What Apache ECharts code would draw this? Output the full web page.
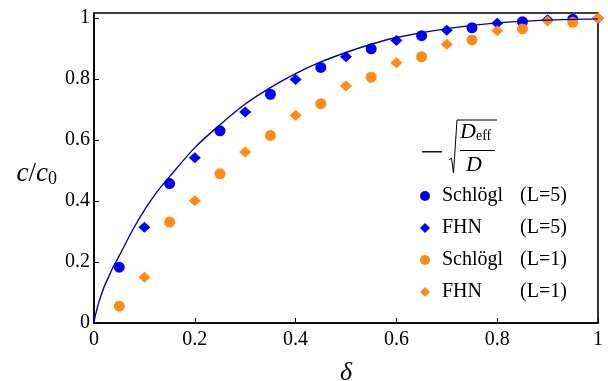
<!DOCTYPE html>
<html style="height: 100%">
<head>
<meta charset="utf-8">
<script src="https://cdn.jsdelivr.net/npm/echarts@6/dist/echarts.min.js"></script>
</head>
<body style="height: 100%; margin: 0; background: #fff">
<div id="container" style="width: 608px; height: 381px"></div>
<script type="text/javascript">
// delta values of the circle series and of the diamond series
var deltaOdd = [0.05, 0.15, 0.25, 0.35, 0.45, 0.55, 0.65, 0.75, 0.85, 0.95];
var deltaEven = [0.1, 0.2, 0.3, 0.4, 0.5, 0.6, 0.7, 0.8, 0.9, 1.0];
var schloglL5 = [0.183, 0.457, 0.630, 0.750, 0.838, 0.899, 0.942, 0.968, 0.988, 0.996];
var fhnL5 = [0.314, 0.542, 0.692, 0.798, 0.873, 0.926, 0.960, 0.983, 0.994, 0.999];
var schloglL1 = [0.055, 0.331, 0.489, 0.615, 0.719, 0.806, 0.873, 0.928, 0.964, 0.986];
var fhnL1 = [0.150, 0.401, 0.561, 0.681, 0.777, 0.853, 0.914, 0.958, 0.990, 0.999];
// sqrt(Deff/D) curve
var curveDelta = [0, 0.002, 0.005, 0.01, 0.02, 0.03, 0.04, 0.05, 0.075, 0.1, 0.125, 0.15, 0.2, 0.25, 0.3, 0.35, 0.4, 0.45, 0.5, 0.55, 0.6, 0.7, 0.8, 0.9, 1.0];
var curveVal = [0, 0.02, 0.04, 0.07, 0.118, 0.155, 0.19, 0.22, 0.30, 0.37, 0.43, 0.48, 0.575, 0.65, 0.718, 0.772, 0.818, 0.856, 0.887, 0.914, 0.936, 0.965, 0.984, 0.993, 0.997];

var serif = 'Liberation Serif';
var blue = '#0000ff', orange = '#ff8a14', curveColor = '#0000aa';

function pairs(xs, ys) {
    return xs.map(function (x, i) { return [x, ys[i]]; });
}

var myChart = echarts.init(document.getElementById('container'));
var option = {
    animation: false,
    textStyle: { fontFamily: serif },
    grid: { left: 94, right: 10, top: 13, bottom: 58, outerBoundsMode: 'none', containLabel: false,
            show: true, borderColor: '#000', borderWidth: 1.6 },
    xAxis: {
        type: 'value', min: 0, max: 1, interval: 0.2,
        name: 'δ', nameLocation: 'middle', nameGap: 37,
        nameTextStyle: { fontFamily: serif, fontStyle: 'italic', fontSize: 26, color: '#000' },
        axisLine: { lineStyle: { color: '#000', width: 1.6 } },
        axisTick: { inside: true, length: 5, lineStyle: { color: '#000' } },
        axisLabel: { fontFamily: serif, fontSize: 20, color: '#000', margin: 7 },
        splitLine: { show: false }
    },
    yAxis: {
        type: 'value', min: 0, max: 1.0164, interval: 0.2,
        name: '{i|c}{n|/}{i|c}{s|0}', nameLocation: 'middle', nameGap: 37, nameRotate: 0,
        nameTextStyle: {
            fontFamily: serif, color: '#000', padding: [12, 0, 0, 0],
            rich: {
                i: { fontFamily: serif, fontStyle: 'italic', fontSize: 27, color: '#000' },
                n: { fontFamily: serif, fontSize: 27, color: '#000' },
                s: { fontFamily: serif, fontSize: 18, color: '#000', verticalAlign: 'bottom', padding: [10, 0, 0, 0] }
            }
        },
        axisLine: { lineStyle: { color: '#000', width: 1.6 } },
        axisTick: { inside: true, length: 5, lineStyle: { color: '#000' } },
        axisLabel: { fontFamily: serif, fontSize: 20, color: '#000', margin: 4, showMaxLabel: false },
        splitLine: { show: false }
    },
    legend: [{
        data: ['sqrt'], orient: 'vertical', left: 422, top: 151, padding: 0,
        icon: 'rect', itemWidth: 20, itemHeight: 1.5,
        textStyle: { fontSize: 1 },
        formatter: function () { return ''; }
    }, {
        data: [
            { name: 'Schlögl (L=5)', icon: 'circle' },
            { name: 'FHN (L=5)', icon: 'diamond' },
            { name: 'Schlögl (L=1)', icon: 'circle' },
            { name: 'FHN (L=1)', icon: 'diamond' }
        ],
        orient: 'vertical', left: 420, top: 186, itemGap: 12, padding: 0,
        itemWidth: 10, itemHeight: 10,
        formatter: function (name) {
            var p = name.split(' ');
            return '{a|' + p[0] + '}{b|' + p[1] + '}';
        },
        textStyle: {
            rich: {
                a: { fontFamily: serif, fontSize: 20, color: '#000', width: 78, lineHeight: 22, padding: [0, 0, 0, 7] },
                b: { fontFamily: serif, fontSize: 20, color: '#000', lineHeight: 22 }
            }
        }
    }],
    graphic: [{
        type: 'group',
        children: [
            { type: 'polyline', shape: { points: [[449, 160], [451.5, 158], [453.5, 173], [457, 120], [497, 120]] },
              style: { stroke: '#000', lineWidth: 1, fill: null } },
            { type: 'line', shape: { x1: 460, y1: 150.5, x2: 495, y2: 150.5 }, style: { stroke: '#000', lineWidth: 1 } },
            { type: 'text', x: 460, y: 121, style: { text: 'D', font: 'italic 22px "Liberation Serif"', fill: '#000' } },
            { type: 'text', x: 476, y: 129, style: { text: 'eff', font: '14px "Liberation Serif"', fill: '#000' } },
            { type: 'text', x: 466, y: 154, style: { text: 'D', font: 'italic 22px "Liberation Serif"', fill: '#000' } }
        ]
    }],
    series: [{
        name: 'sqrt', type: 'line', data: pairs(curveDelta, curveVal),
        smooth: 0.3, showSymbol: false, symbol: 'none',
        lineStyle: { color: curveColor, width: 1.4 }, itemStyle: { color: curveColor }
    }, {
        name: 'Schlögl (L=5)', type: 'scatter', data: pairs(deltaOdd, schloglL5),
        symbol: 'circle', symbolSize: 11, itemStyle: { color: blue, opacity: 1 }
    }, {
        name: 'FHN (L=5)', type: 'scatter', data: pairs(deltaEven, fhnL5),
        symbol: 'diamond', symbolSize: [12, 11], itemStyle: { color: blue, opacity: 1 }
    }, {
        name: 'Schlögl (L=1)', type: 'scatter', data: pairs(deltaOdd, schloglL1),
        symbol: 'circle', symbolSize: 11, itemStyle: { color: orange, opacity: 1 }
    }, {
        name: 'FHN (L=1)', type: 'scatter', data: pairs(deltaEven, fhnL1),
        symbol: 'diamond', symbolSize: [12, 11], itemStyle: { color: orange, opacity: 1 }
    }]
};
myChart.setOption(option);
</script>
</body>
</html>
